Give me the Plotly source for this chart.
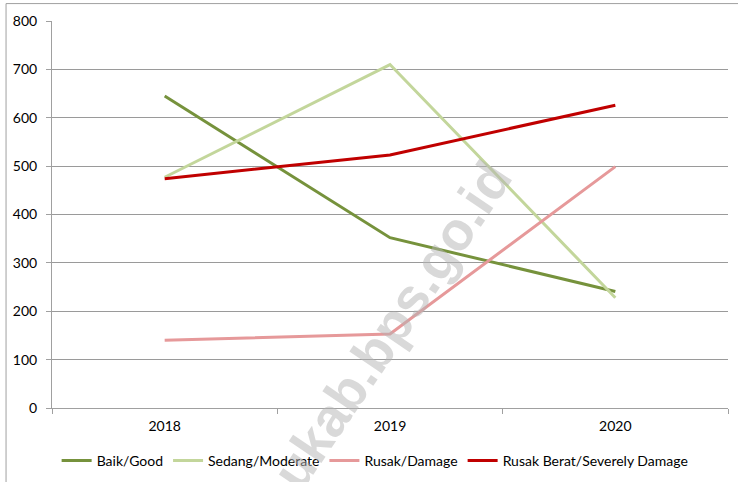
import plotly.graph_objects as go

# Chart data
years = ['2018', '2019', '2020']
baik = [645, 352, 241]
sedang = [477, 710, 228]
rusak = [140, 153, 499]
rusak_berat = [474, 523, 626]

series_names = ['Baik/Good', 'Sedang/Moderate', 'Rusak/Damage', 'Rusak Berat/Severely Damage']
series_colors = ['#76923c', '#c3d69b', '#e6999a', '#c00000']

fig = go.Figure()

for name, values, color in zip(series_names, [baik, sedang, rusak, rusak_berat], series_colors):
    fig.add_trace(go.Scatter(
        x=years,
        y=values,
        mode='lines',
        name=name,
        line=dict(color=color, width=3),
    ))

# Watermark
fig.add_annotation(
    text='ukab.bps.go.id',
    x=0.502, y=0.215,
    xref='paper', yref='paper',
    xanchor='center', yanchor='middle',
    showarrow=False,
    textangle=-56,
    font=dict(family='Liberation Sans', size=54, color='rgba(180,180,180,0.5)', weight='bold'),
)

# Outer frame (left and top edges)
fig.add_shape(type='line', xref='paper', yref='paper',
              x0=-0.068, x1=-0.068, y0=1.045, y1=-0.2, line=dict(color='#a0a0a0', width=1))
fig.add_shape(type='line', xref='paper', yref='paper',
              x0=-0.068, x1=1.02, y0=1.045, y1=1.045, line=dict(color='#a0a0a0', width=1))

fig.update_layout(
    width=738,
    height=482,
    plot_bgcolor='white',
    paper_bgcolor='white',
    font=dict(family='Lato', size=14, color='#000000'),
    margin=dict(l=52, r=10, t=21, b=74, autoexpand=False),
    showlegend=True,
    legend=dict(
        orientation='h',
        x=0.478, xanchor='center',
        y=-0.137, yanchor='middle',
        font=dict(size=14),
        itemwidth=30,
    ),
)

fig.update_xaxes(
    type='category',
    range=[-0.5, 2.5],
    tickson='boundaries',
    ticks='outside',
    ticklen=5,
    tickcolor='#a0a0a0',
    ticklabelstandoff=5,
    showline=True,
    linecolor='#a0a0a0',
    linewidth=1,
    showgrid=False,
    automargin=False,
)

fig.update_yaxes(
    range=[0, 800],
    dtick=100,
    ticks='outside',
    ticklen=5,
    tickcolor='#a0a0a0',
    ticklabelstandoff=6,
    showline=True,
    linecolor='#a0a0a0',
    linewidth=1,
    showgrid=True,
    gridcolor='#9a9a9a',
    gridwidth=1,
    zeroline=False,
    automargin=False,
)

fig.write_html('out.html', config={'displayModeBar': False},
               post_script="document.body.style.margin='0';")
